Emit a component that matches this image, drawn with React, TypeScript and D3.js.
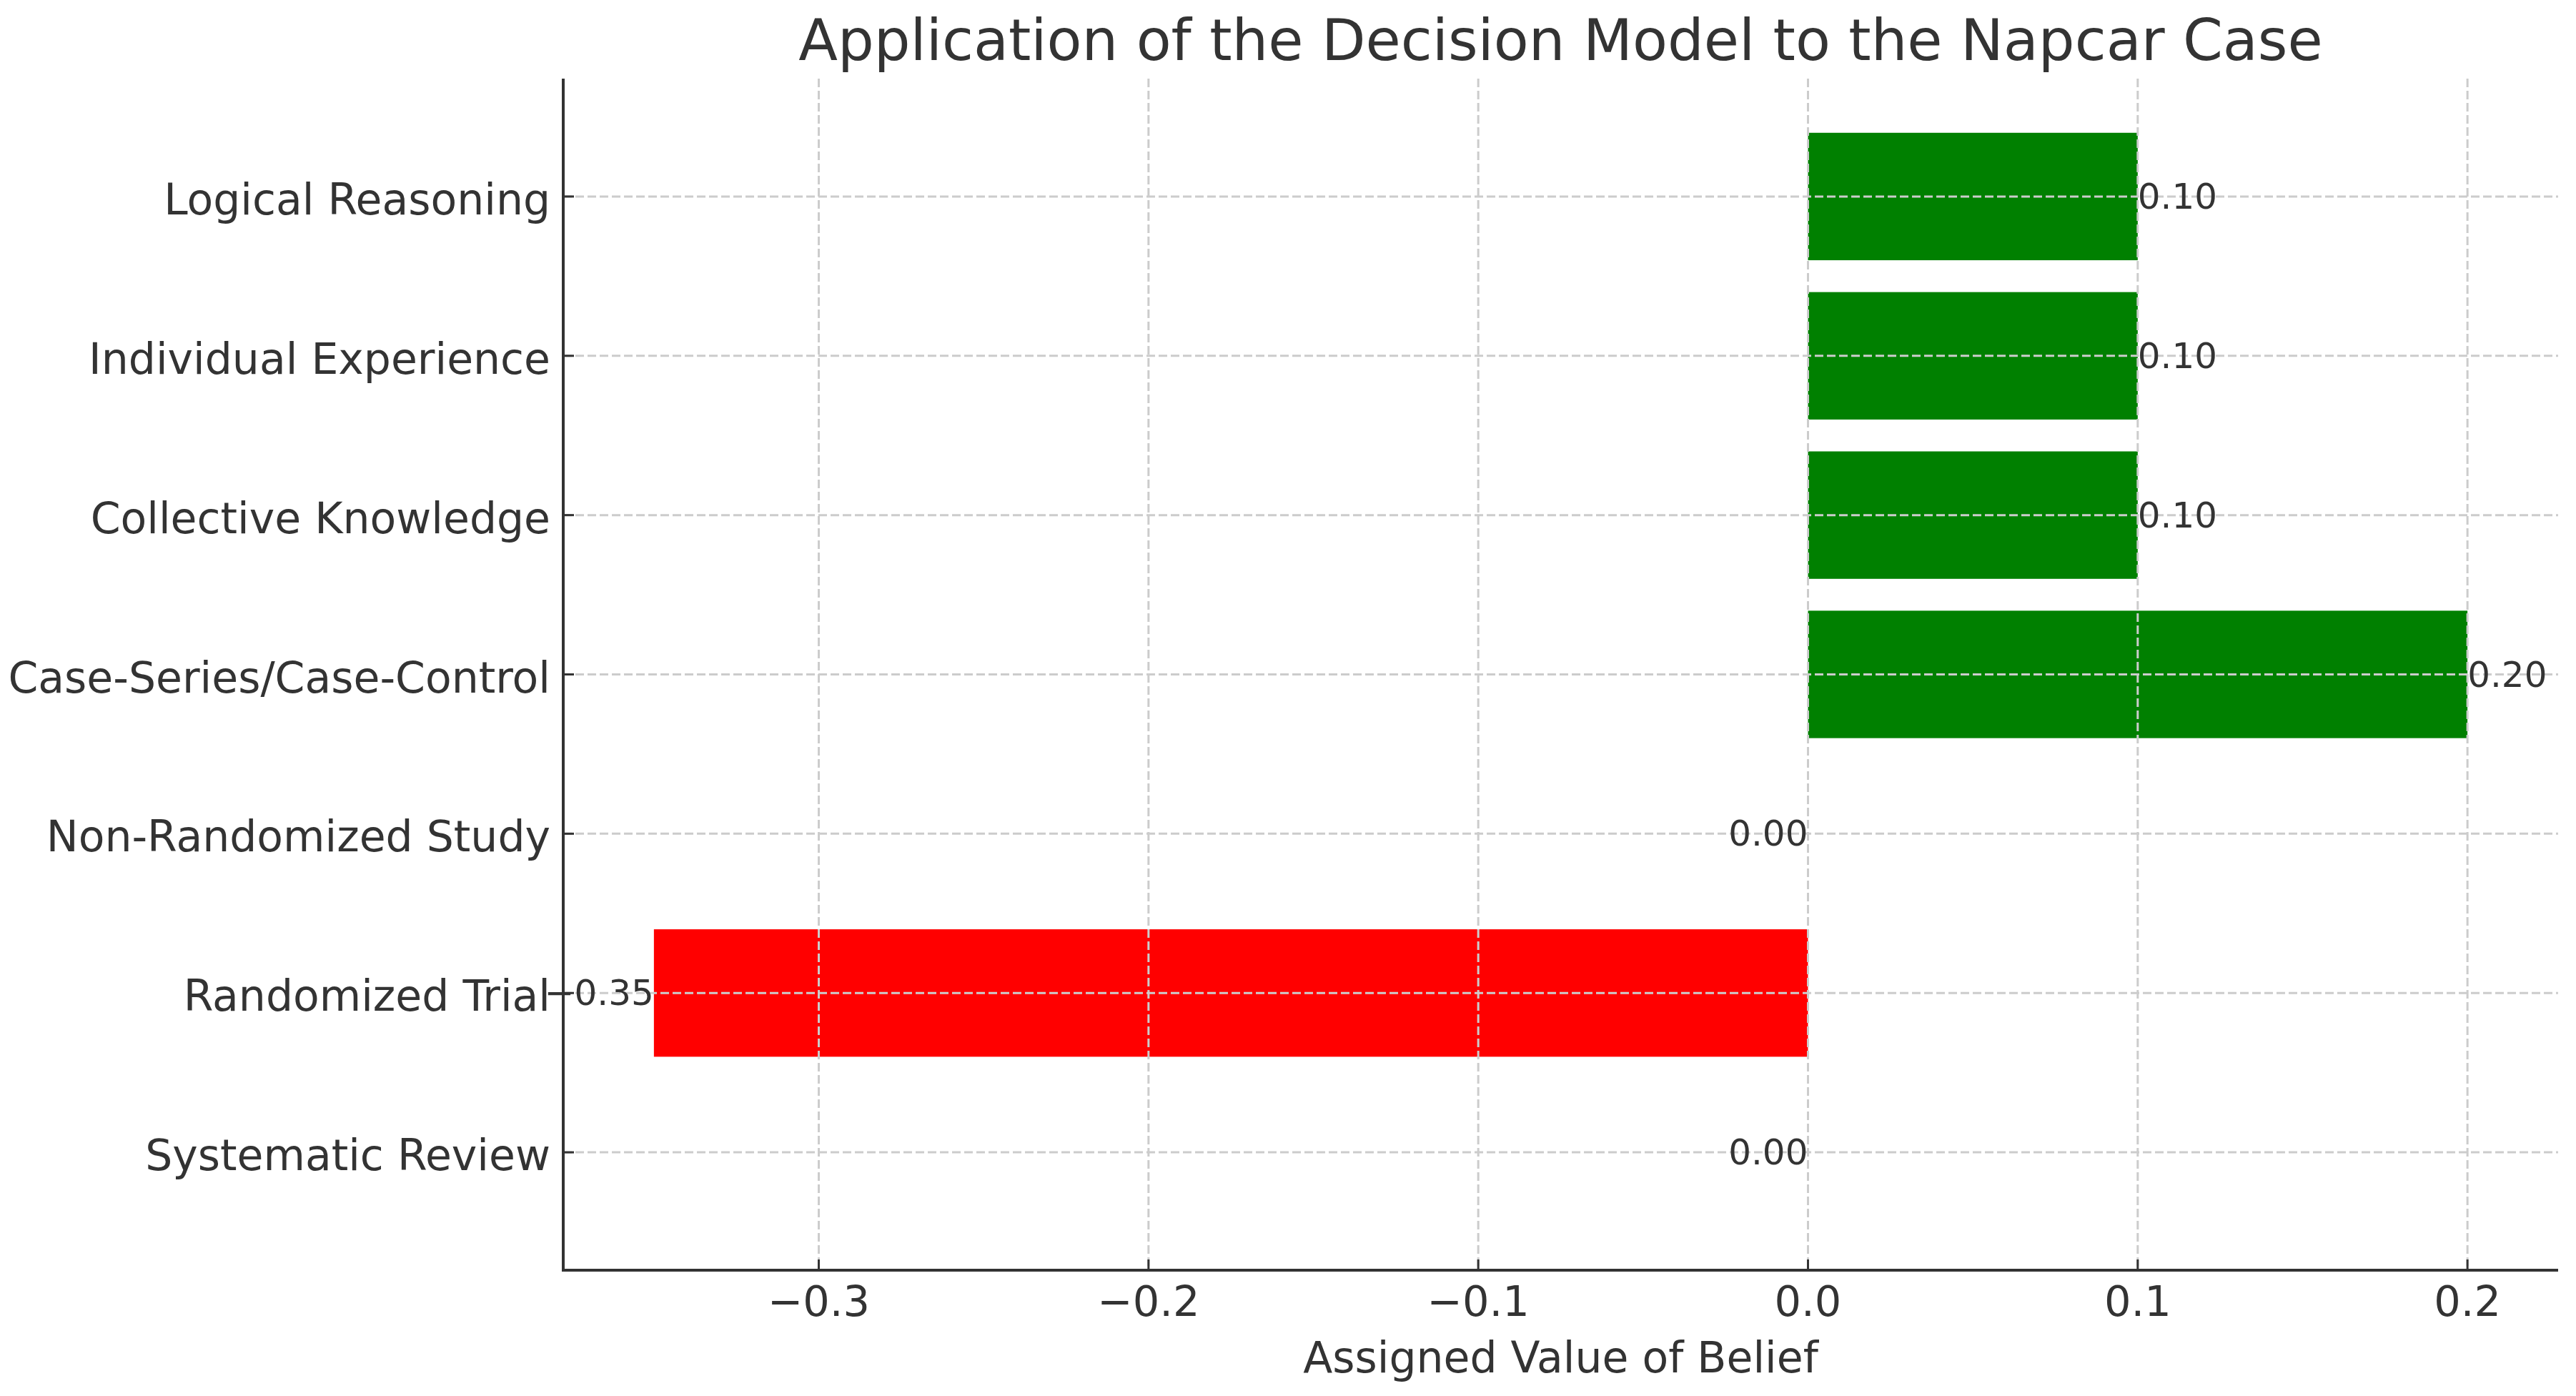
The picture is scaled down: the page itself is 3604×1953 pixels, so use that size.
import React from "react";
import * as d3 from "d3";

const categories = [
  "Systematic Review",
  "Randomized Trial",
  "Non-Randomized Study",
  "Case-Series/Case-Control",
  "Collective Knowledge",
  "Individual Experience",
  "Logical Reasoning",
];
const values = [0.0, -0.35, 0.0, 0.2, 0.1, 0.1, 0.1];
const xTicks = [-0.3, -0.2, -0.1, 0.0, 0.1, 0.2];
const titleText = "Application of the Decision Model to the Napcar Case";
const xLabelText = "Assigned Value of Belief";

const W = 3604;
const H = 1953;
const left = 788;
const right = 3579;
const top = 110;
const bottom = 1777;
const barHeight = 0.8;
const font = "'DejaVu Sans', sans-serif";
const textColor = "#333333";

export default function App() {
  const vmin = d3.min(values) as number;
  const vmax = d3.max(values) as number;
  const xr = vmax - vmin;
  const x = d3.scaleLinear().domain([vmin - 0.05 * xr, vmax + 0.05 * xr]).range([left, right]);
  const yLo = -barHeight / 2;
  const yHi = categories.length - 1 + barHeight / 2;
  const yr = yHi - yLo;
  const y = d3.scaleLinear().domain([yLo - 0.05 * yr, yHi + 0.05 * yr]).range([bottom, top]);
  const fmtTick = (v: number) => d3.format(".1f")(v).replace("-", "\u2212");
  const fmtVal = (v: number) => d3.format(".2f")(v);
  const gridStyle = { stroke: "#cccccc", strokeWidth: 3, strokeDasharray: "12,5" };

  return (
    <div style={{ position: "absolute", left: 0, top: 0 }}>
      <svg width={W} height={H} viewBox={`0 0 ${W} ${H}`} style={{ display: "block", background: "#fff" }}>
        <rect x={0} y={0} width={W} height={H} fill="#ffffff" />
        {/* bars */}
        {values.map((v, i) => (
          <rect
            key={"b" + i}
            x={Math.min(x(0), x(v))}
            y={y(i + barHeight / 2)}
            width={Math.abs(x(v) - x(0))}
            height={y(i - barHeight / 2) - y(i + barHeight / 2)}
            fill={v >= 0 ? "#008000" : "#ff0000"}
          />
        ))}
        {/* grid */}
        {xTicks.map((t, i) => (
          <line key={"gx" + i} x1={x(t)} x2={x(t)} y1={top} y2={bottom} {...gridStyle} />
        ))}
        {categories.map((c, i) => (
          <line key={"gy" + i} x1={left} x2={right} y1={y(i)} y2={y(i)} {...gridStyle} />
        ))}
        {/* spines */}
        <line x1={left} x2={left} y1={top} y2={bottom + 2} stroke="#333" strokeWidth={4} />
        <line x1={left - 2} x2={right} y1={bottom} y2={bottom} stroke="#333" strokeWidth={4} />
        {/* x ticks */}
        {xTicks.map((t, i) => (
          <g key={"xt" + i}>
            <line x1={x(t)} x2={x(t)} y1={bottom} y2={bottom - 15} stroke="#333" strokeWidth={3} />
            <text
              x={x(t)}
              y={bottom + 20}
              textAnchor="middle"
              dominantBaseline="hanging"
              fontFamily={font}
              fontSize={59}
              fill={textColor}
            >
              {fmtTick(t)}
            </text>
          </g>
        ))}
        {/* y ticks */}
        {categories.map((c, i) => (
          <g key={"yt" + i}>
            <line x1={left} x2={left + 15} y1={y(i)} y2={y(i)} stroke="#333" strokeWidth={3} />
            <text
              x={left - 18}
              y={y(i) + 4}
              textAnchor="end"
              dominantBaseline="central"
              fontFamily={font}
              fontSize={60}
              fill={textColor}
            >
              {c}
            </text>
          </g>
        ))}
        {/* value labels */}
        {values.map((v, i) => (
          <text
            key={"v" + i}
            x={x(v)}
            y={y(i)}
            textAnchor={v > 0 ? "start" : "end"}
            dominantBaseline="central"
            fontFamily={font}
            fontSize={50}
            fill={textColor}
          >
            {fmtVal(v)}
          </text>
        ))}
        {/* title and label */}
        <text
          x={(left + right) / 2}
          y={84}
          textAnchor="middle"
          fontFamily={font}
          fontSize={80}
          fill={textColor}
        >
          {titleText}
        </text>
        <text
          x={(left + right) / 2}
          y={1920}
          textAnchor="middle"
          fontFamily={font}
          fontSize={60}
          fill={textColor}
        >
          {xLabelText}
        </text>
      </svg>
    </div>
  );
}
